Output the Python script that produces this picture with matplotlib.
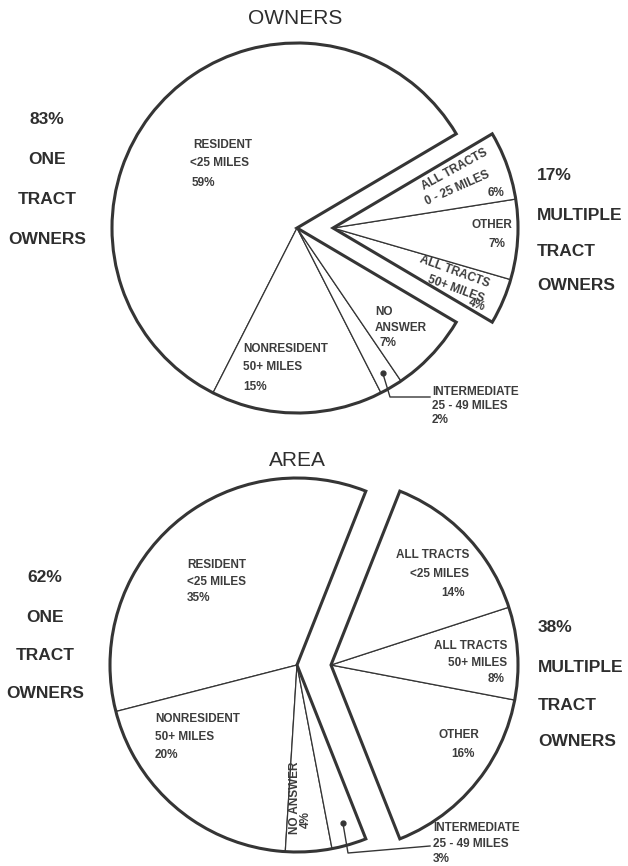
import matplotlib
matplotlib.use("Agg")
import numpy as np
import matplotlib.pyplot as plt
from matplotlib.patches import Wedge

W, H = 628, 866

# OWNERS chart, percent of owners
own_one_names = ["RESIDENT", "NONRESIDENT", "INTERMEDIATE", "NO ANSWER"]
own_one = [59, 15, 2, 7]
own_multi_names = ["ALL TRACTS 50+", "OTHER", "ALL TRACTS 0-25"]
own_multi = [4, 7, 6]

# AREA chart, percent of area
area_one_names = ["RESIDENT", "NONRESIDENT", "NO ANSWER", "INTERMEDIATE"]
area_one = [35, 20, 4, 3]
area_multi_names = ["OTHER", "ALL TRACTS 50+", "ALL TRACTS <25"]
area_multi = [16, 8, 14]

EDGE = "#353535"
TXT = "#3c3c3c"
BIG = "#2e2e2e"
plt.rcParams["font.family"] = ["Liberation Sans", "DejaVu Sans"]


def P(x, y):
    # pixel position (from top) -> data coords
    return x, H - y


def draw_split_pie(ax, one, multi, center, r, shift, inter_idx, dot_r):
    cx, cy = P(*center)
    one_start = 180 - sum(one) / 100 * 180
    multi_start = -sum(multi) / 100 * 180
    wp = dict(edgecolor=EDGE, linewidth=0.9, facecolor="white")
    ax.pie([v / 100 for v in one], normalize=False, center=(cx, cy), radius=r,
           startangle=one_start, colors=["white"] * len(one), wedgeprops=wp, frame=True)
    ax.pie([v / 100 for v in multi], normalize=False, center=(cx + shift, cy), radius=r,
           startangle=multi_start, colors=["white"] * len(multi), wedgeprops=wp, frame=True)
    ax.add_patch(Wedge((cx, cy), r, one_start, one_start + sum(one) * 3.6,
                       fill=False, lw=2.2, ec=EDGE, joinstyle="miter", zorder=5))
    ax.add_patch(Wedge((cx + shift, cy), r, multi_start, multi_start + sum(multi) * 3.6,
                       fill=False, lw=2.2, ec=EDGE, joinstyle="miter", zorder=5))
    # dot in the intermediate wedge
    cum = np.cumsum([0] + one)
    mid = np.radians(one_start + (cum[inter_idx] + one[inter_idx] / 2) * 3.6)
    dx, dy = cx + dot_r * r * np.cos(mid), cy + dot_r * r * np.sin(mid)
    ax.plot(dx, dy, "o", color=EDGE, ms=3.5, zorder=6)
    return dx, dy


fig = plt.figure(figsize=(W / 100, H / 100), dpi=100)
ax = fig.add_axes([0, 0, 1, 1])

# ---------- OWNERS ----------
d1 = draw_split_pie(ax, own_one, own_multi, (297, 228), 185, 36, 2, 0.91)
ax.plot([d1[0], 390, 430], [d1[1], H - 397, H - 397], color=EDGE, lw=1)

ax.text(*P(295, 18), "OWNERS", fontsize=15, color=BIG, ha="center", va="center")

small = dict(fontsize=8.5, fontweight="bold", color=TXT, va="center")
ax.text(*P(193, 145), "RESIDENT", ha="left", **small)
ax.text(*P(190, 163), "<25 MILES", ha="left", **small)
ax.text(*P(192, 183), f"{own_one[0]}%", ha="left", **small)
ax.text(*P(243, 349), "NONRESIDENT", ha="left", **small)
ax.text(*P(243, 367), "50+ MILES", ha="left", **small)
ax.text(*P(243, 387), f"{own_one[1]}%", ha="left", **small)
ax.text(*P(375, 312), "NO", ha="left", **small)
ax.text(*P(375, 328), "ANSWER", ha="left", **small)
ax.text(*P(380, 343), f"{own_one[3]}%", ha="left", **small)
ax.text(*P(432, 392), "INTERMEDIATE", ha="left", **small)
ax.text(*P(432, 406), "25 - 49 MILES", ha="left", **small)
ax.text(*P(432, 420), f"{own_one[2]}%", ha="left", **small)

rot = dict(fontsize=8.5, fontweight="bold", color=TXT, ha="center", va="center",
           rotation_mode="anchor")
ax.text(*P(455, 170), "ALL TRACTS", rotation=29, **rot)
ax.text(*P(457, 188), "0 - 25 MILES", rotation=24, **rot)
ax.text(*P(496, 193), f"{own_multi[2]}%", **small, ha="center")
ax.text(*P(512, 225), "OTHER", ha="right", **small)
ax.text(*P(497, 244), f"{own_multi[1]}%", ha="center", **small)
ax.text(*P(455, 272), "ALL TRACTS", rotation=-20, **rot)
ax.text(*P(456, 289), "50+ MILES", rotation=-20, **rot)
ax.text(*P(477, 305), f"{own_multi[0]}%", rotation=-20, **rot)

big = dict(fontsize=12.5, fontweight="bold", color=BIG, va="center")
for y, s in zip([120, 160, 200, 239], [f"{sum(own_one)}%", "ONE", "TRACT", "OWNERS"]):
    ax.text(*P(47, y), s, ha="center", **big)
for y, s in zip([176, 215, 251, 286], [f"{sum(own_multi)}%", "MULTIPLE", "TRACT", "OWNERS"]):
    ax.text(*P(537, y), s, ha="left", **big)

# ---------- AREA ----------
d2 = draw_split_pie(ax, area_one, area_multi, (297, 665), 187, 34, 3, 0.88)
ax.plot([d2[0], 348, 430], [d2[1], H - 853, H - 846], color=EDGE, lw=1)

ax.text(*P(297, 460), "AREA", fontsize=15, color=BIG, ha="center", va="center")

ax.text(*P(187, 565), "RESIDENT", ha="left", **small)
ax.text(*P(187, 582), "<25 MILES", ha="left", **small)
ax.text(*P(187, 598), f"{area_one[0]}%", ha="left", **small)
ax.text(*P(155, 719), "NONRESIDENT", ha="left", **small)
ax.text(*P(155, 737), "50+ MILES", ha="left", **small)
ax.text(*P(155, 755), f"{area_one[1]}%", ha="left", **small)
ax.text(*P(295, 798), "NO ANSWER", rotation=90, **rot)
ax.text(*P(306, 820), f"{area_one[2]}%", rotation=90, **rot)
ax.text(*P(433, 828), "INTERMEDIATE", ha="left", **small)
ax.text(*P(433, 844), "25 - 49 MILES", ha="left", **small)
ax.text(*P(433, 859), f"{area_one[3]}%", ha="left", **small)

ax.text(*P(469, 555), "ALL TRACTS", ha="right", **small)
ax.text(*P(469, 574), "<25 MILES", ha="right", **small)
ax.text(*P(453, 593), f"{area_multi[2]}%", ha="center", **small)
ax.text(*P(507, 646), "ALL TRACTS", ha="right", **small)
ax.text(*P(507, 663), "50+ MILES", ha="right", **small)
ax.text(*P(504, 679), f"{area_multi[1]}%", ha="right", **small)
ax.text(*P(459, 735), "OTHER", ha="center", **small)
ax.text(*P(463, 754), f"{area_multi[0]}%", ha="center", **small)

for y, s in zip([578, 617, 655, 694], [f"{sum(area_one)}%", "ONE", "TRACT", "OWNERS"]):
    ax.text(*P(45, y), s, ha="center", **big)
for y, s in zip([628, 667, 705, 742], [f"{sum(area_multi)}%", "MULTIPLE", "TRACT", "OWNERS"]):
    ax.text(*P(538, y), s, ha="left", **big)

ax.set_xlim(0, W)
ax.set_ylim(0, H)
ax.set_aspect("equal")
ax.axis("off")

fig.savefig("out.png", dpi=100, facecolor="white")
